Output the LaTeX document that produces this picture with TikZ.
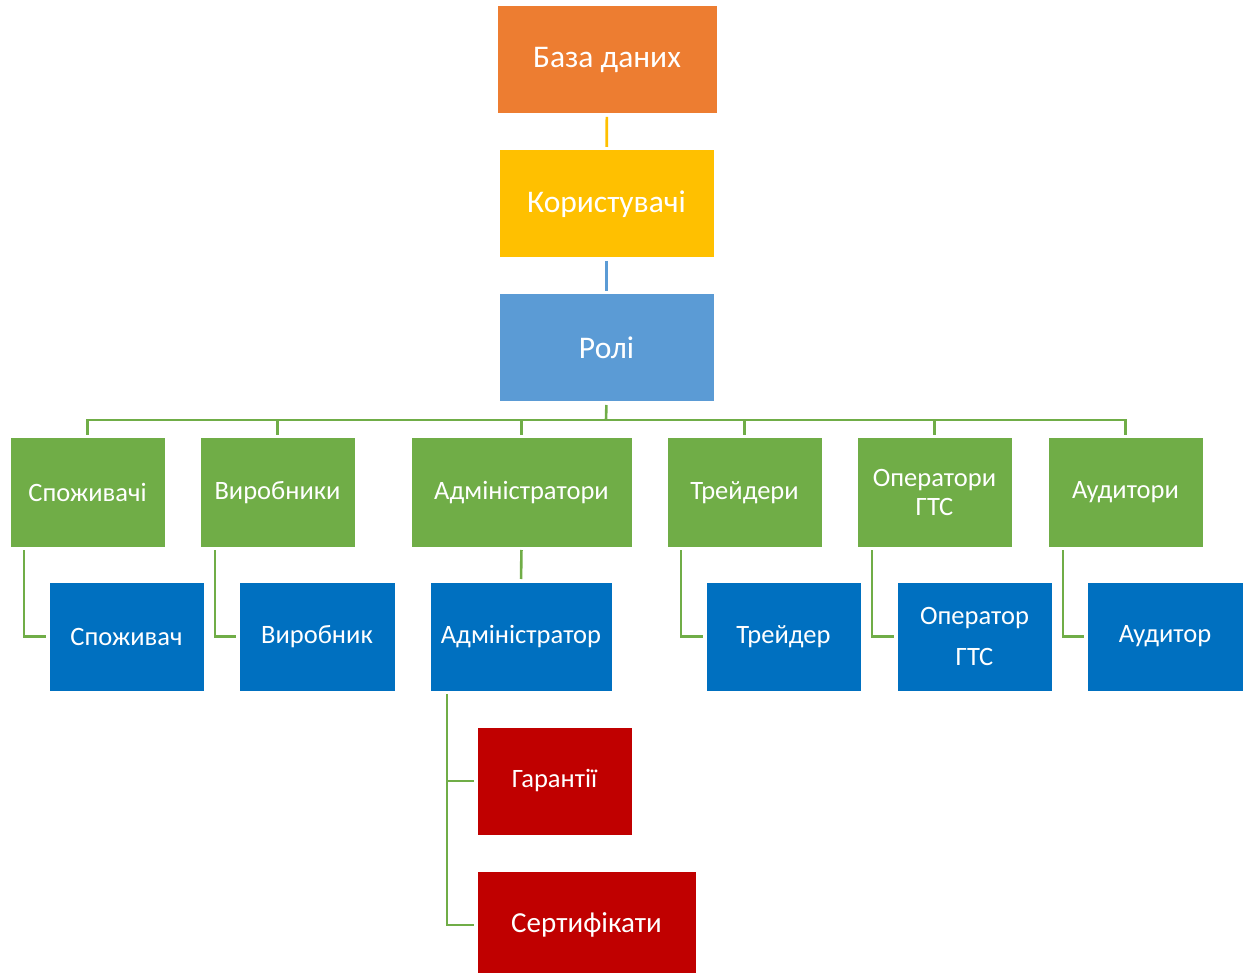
\documentclass[tikz,border=0pt]{standalone}
\usepackage{fontspec}
\setmainfont{Carlito}
\begin{document}
\begin{tikzpicture}[x=1pt,y=-1pt,
  box/.style={draw=white, line width=1pt, outer sep=0pt, inner sep=2pt,
    text=white, align=center, anchor=north west},
  lvlA/.style={box, font=\fontsize{31.5}{36}\selectfont},
  lvlB/.style={box, font=\fontsize{26.5}{29}\selectfont},
  orangebox/.style={lvlA, fill=orangec},
  yellowbox/.style={lvlA, fill=yellowc},
  lightbox/.style={lvlA, fill=lightbluec},
  greenbox/.style={lvlB, fill=greenc},
  bluebox/.style={lvlB, fill=bluec},
  redbox/.style={lvlB, fill=redc},
  conn/.style={line width=2.6pt, draw=greenc, shorten <=3pt, shorten >=3pt},
]
\definecolor{orangec}{HTML}{ED7D31}
\definecolor{yellowc}{HTML}{FFC000}
\definecolor{lightbluec}{HTML}{5B9BD5}
\definecolor{greenc}{HTML}{70AD47}
\definecolor{bluec}{HTML}{0070C0}
\definecolor{redc}{HTML}{C00000}
\useasboundingbox (0,0) rectangle (1248,973);

% top chain
\node[orangebox, minimum width=220, minimum height=108] (db) at (497,6) {База даних};
\node[yellowbox, minimum width=215, minimum height=108] (users) at (499,150) {Користувачі};
\node[lightbox, minimum width=215, minimum height=108] (roles) at (499,294) {Ролі};

% role groups
\node[greenbox, minimum width=155, minimum height=109] (g1) at (10,438) {Споживачі};
\node[greenbox, minimum width=155, minimum height=109] (g2) at (200,438) {Виробники};
\node[greenbox, minimum width=221, minimum height=109] (g3) at (411,438) {Адміністратори};
\node[greenbox, minimum width=155, minimum height=109] (g4) at (667,438) {Трейдери};
\node[greenbox, minimum width=155, minimum height=109] (g5) at (857,438) {Оператори\\ГТС};
\node[greenbox, minimum width=155, minimum height=109] (g6) at (1048,438) {Аудитори};

% single roles
\node[bluebox, minimum width=155, minimum height=109] (b1) at (49,582) {Споживач};
\node[bluebox, minimum width=156, minimum height=109] (b2) at (239,582) {Виробник};
\node[bluebox, minimum width=182, minimum height=109] (b3) at (430,582) {Адміністратор};
\node[bluebox, minimum width=155, minimum height=109] (b4) at (706,582) {Трейдер};
\node[bluebox, minimum width=155, minimum height=109] (b5) at (897,582) {Оператор\\[12pt]ГТС};
\node[bluebox, minimum width=156, minimum height=109] (b6) at (1087,582) {Аудитор};

% administrator sections
\node[redbox, minimum width=155, minimum height=108] (r1) at (477,727) {Гарантії};
\node[redbox, minimum width=219, minimum height=108, font=\fontsize{29}{33}\selectfont] (r2) at (477,871) {Сертифікати};

% connectors of the top chain
\draw[conn, draw=yellowc] (db) -- (users);
\draw[conn, draw=lightbluec] (users) -- (roles);

% bus under the roles box
\coordinate (bus) at (606,420);
\draw[conn, shorten >=0pt] (roles.south) -- (bus);
\foreach \g in {g1,g2,g3,g4,g5,g6}
  \draw[conn, shorten <=0pt] (bus) -- (bus -| \g.north) -- (\g.north);

% group to role links
\draw[conn] ([xshift=14pt]g1.south west) |- (b1.west);
\draw[conn] ([xshift=15pt]g2.south west) |- (b2.west);
\draw[conn] (g3.south) -- (b3.north);
\draw[conn] ([xshift=14pt]g4.south west) |- (b4.west);
\draw[conn] ([xshift=15pt]g5.south west) |- (b5.west);
\draw[conn] ([xshift=15pt]g6.south west) |- (b6.west);

% administrator to sections
\draw[conn] ([xshift=17pt]b3.south west) |- (r1.west);
\draw[conn] ([xshift=17pt]b3.south west) |- (r2.west);
\end{tikzpicture}
\end{document}
